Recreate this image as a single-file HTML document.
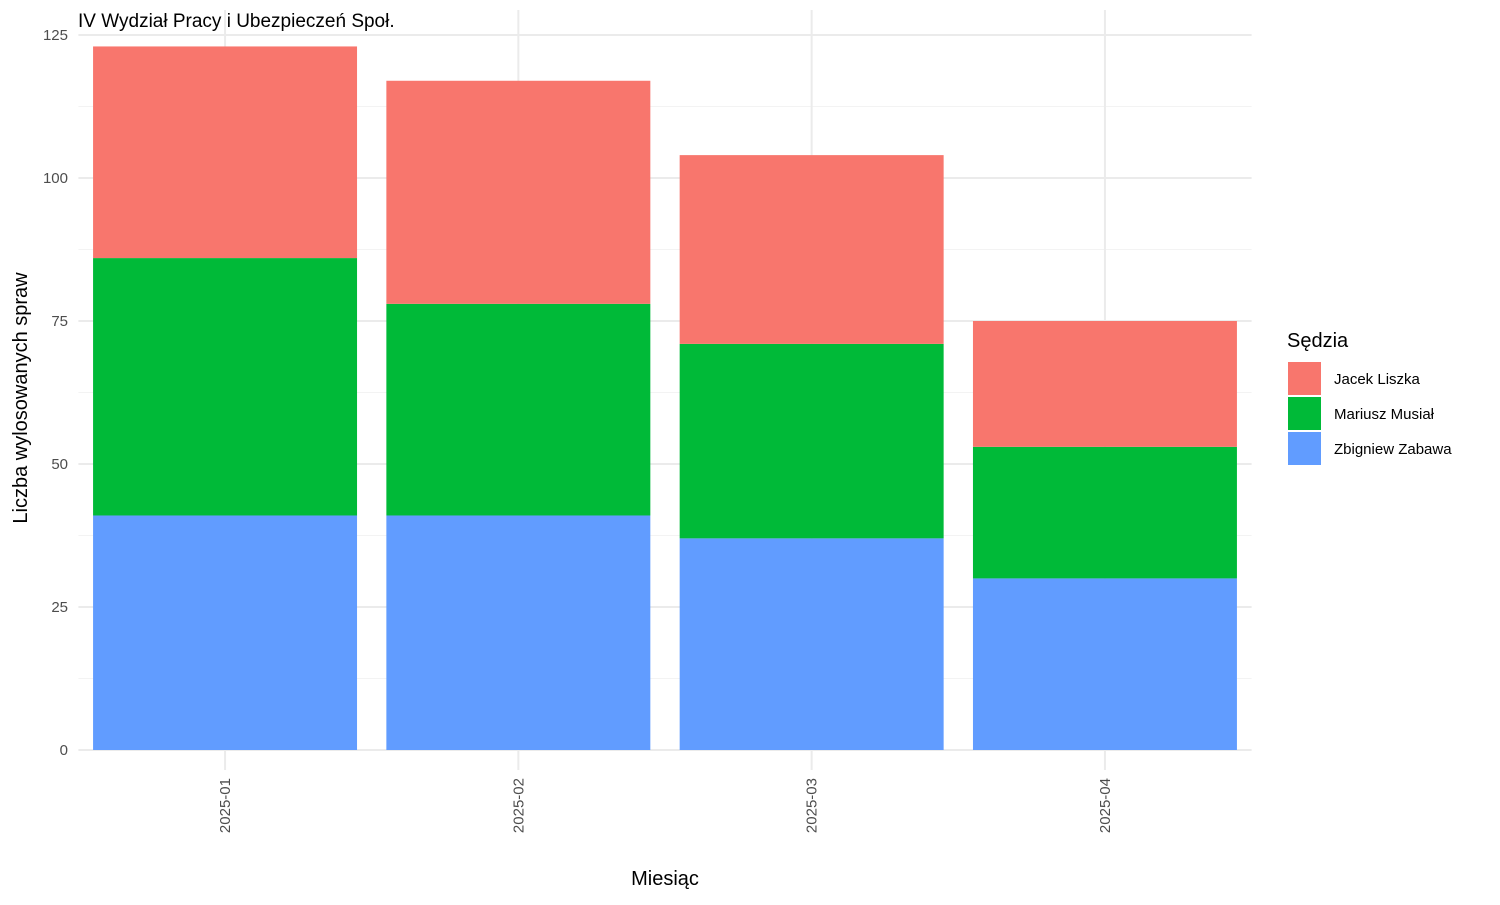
<!DOCTYPE html>
<html><head><meta charset="utf-8"><style>
body{margin:0;background:#fff;font-family:"Liberation Sans",sans-serif;}
</style></head><body>
<svg id="chart" width="1500" height="900" xmlns="http://www.w3.org/2000/svg" font-family="Liberation Sans, sans-serif">
<rect width="1500" height="900" fill="#fff"/>
<g id="grid"></g>
<g id="bars"></g>
<g id="yticks"></g>
<g id="xticks"></g>
<text x="78" y="27" font-size="19" fill="#000">IV Wydział Pracy i Ubezpieczeń Społ.</text>
<text x="665" y="885" font-size="20" text-anchor="middle" fill="#000">Miesiąc</text>
<text transform="translate(27,398) rotate(-90)" font-size="20" text-anchor="middle" fill="#000">Liczba wylosowanych spraw</text>
<g id="legend">
<text x="1287" y="347" font-size="20" fill="#000">Sędzia</text>
</g>
</svg>
<script>
const categories = ["2025-01","2025-02","2025-03","2025-04"];
const seriesNames = ["Zbigniew Zabawa","Mariusz Musiał","Jacek Liszka"];
const zabawa = [41,41,37,30];
const musial = [45,37,34,23];
const liszka = [37,39,33,22];
const yTicks = [0,25,50,75,100,125];
const colors = ["#619CFF","#00BA38","#F8766D"];
const NS="http://www.w3.org/2000/svg";
const px0=78.4, px1=1251.6, y0=750, yScale=5.72;
const step=(px1-px0)/categories.length;
const xC=i=>px0+step*(i+0.5);
const yS=v=>y0-v*yScale;
function mk(tag,attrs,parent){const e=document.createElementNS(NS,tag);for(const k in attrs)e.setAttribute(k,attrs[k]);parent.appendChild(e);return e;}
const grid=document.getElementById('grid');
for(let i=0;i<yTicks.length-1;i++){
  const v=(yTicks[i]+yTicks[i+1])/2;
  const l=mk('line',{x1:px0,x2:px1,y1:yS(v),y2:yS(v),stroke:'#f3f3f3','stroke-width':1},grid);
  
  
}
yTicks.forEach(v=>{
  const l=mk('line',{x1:px0,x2:px1,y1:yS(v),y2:yS(v),stroke:'#ebebeb','stroke-width':2},grid);
  
  
  const t=mk('text',{x:68,y:yS(v)+5,'font-size':15,'text-anchor':'end',fill:'#4d4d4d'},document.getElementById('yticks'));
  t.textContent=v;
  
  
});
categories.forEach((c,i)=>{
  const l=mk('line',{x1:xC(i),x2:xC(i),y1:10,y2:770,stroke:'#ebebeb','stroke-width':2},grid);
  
  
  const t=mk('text',{transform:`translate(${xC(i)+5},778) rotate(-90)`,'font-size':15,'text-anchor':'end',fill:'#4d4d4d'},document.getElementById('xticks'));
  t.textContent=c;
  
  
});
const series=[zabawa,musial,liszka];
const bw=step*0.9;
const bars=document.getElementById('bars');
categories.forEach((c,i)=>{
  let base=0;
  series.forEach((s,k)=>{
    const top=base+s[i];
    const r=mk('rect',{x:xC(i)-bw/2,y:yS(top),width:bw,height:yS(base)-yS(top),fill:colors[k]},bars);
    
    
    base=top;
  });
});
const legend=document.getElementById('legend');
[2,1,0].forEach((k,j)=>{
  const y=362+j*35;
  const r=mk('rect',{x:1288,y:y,width:33,height:33,fill:colors[k]},legend);
  
  
  const t=mk('text',{x:1334,y:y+22,'font-size':15,fill:'#000'},legend);
  t.textContent=seriesNames[k];
  
  
});
</script>
</body></html>
